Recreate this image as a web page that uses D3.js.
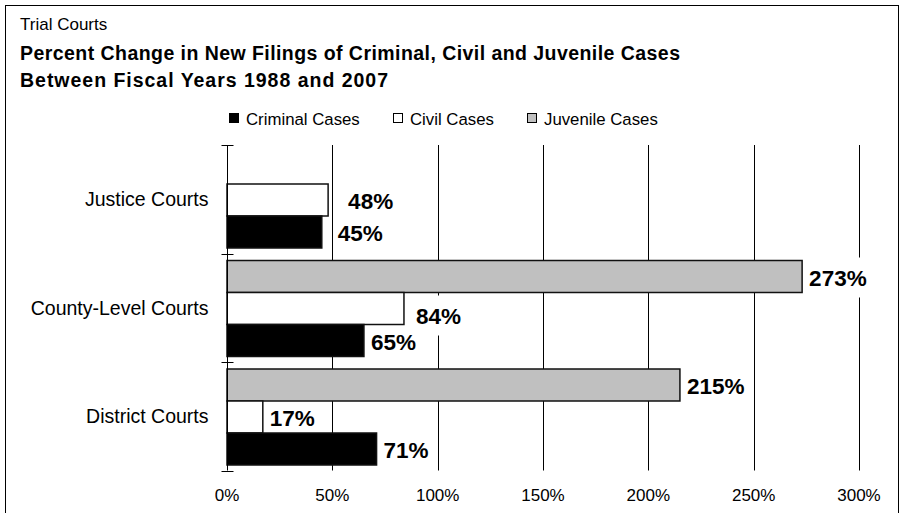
<!DOCTYPE html>
<html>
<head>
<meta charset="utf-8">
<script src="https://cdn.jsdelivr.net/npm/d3@7"></script>
<style>
  html, body { margin: 0; padding: 0; background: #fff; }
  svg { display: block; font-family: "Liberation Sans", Arial, sans-serif; }
</style>
</head>
<body>
<div id="chart"></div>
<script>
// Trial courts: percent change in new filings, FY1988 -> FY2007

var courts = ["Justice Courts", "County-Level Courts", "District Courts"];
var seriesNames = ["Juvenile Cases", "Civil Cases", "Criminal Cases"];   // top -> bottom inside a group
var legendOrder = ["Criminal Cases", "Civil Cases", "Juvenile Cases"];
var criminal = [45, 65, 71];
var civil = [48, 84, 17];
var juvenile = [null, 273, 215];
var xTicks = [0, 50, 100, 150, 200, 250, 300];

var fills = { "Criminal Cases": "#000", "Civil Cases": "#fff", "Juvenile Cases": "#c0c0c0" };

// hand-moved labels in the original (extra gap, vertical nudge)
var labelNudge = {
    "Justice Courts|Civil Cases": [13, 0],
    "Justice Courts|Criminal Cases": [9, 0],
    "County-Level Courts|Civil Cases": [5, 6]
};

var rows = [];
courts.forEach(function (c, i) {
    rows.push({ court: c, series: "Juvenile Cases", value: juvenile[i] });
    rows.push({ court: c, series: "Civil Cases", value: civil[i] });
    rows.push({ court: c, series: "Criminal Cases", value: criminal[i] });
});
rows = rows.filter(function (d) { return d.value != null; });

var W = 904, H = 513;
var svg = d3.select("#chart").append("svg")
    .attr("width", W).attr("height", H);

// frame
svg.append("rect")
    .attr("x", 5.5).attr("y", 5.5)
    .attr("width", 893).attr("height", 530)
    .attr("fill", "none").attr("stroke", "#000").attr("stroke-width", 1);

// titles
svg.append("text").attr("x", 20).attr("y", 30)
    .attr("font-size", 17).text("Trial Courts");
svg.append("text").attr("x", 20).attr("y", 60)
    .attr("font-size", 19.5).attr("font-weight", "bold")
    .attr("textLength", 660).attr("lengthAdjust", "spacing")
    .text("Percent Change in New Filings of Criminal, Civil and Juvenile Cases");
svg.append("text").attr("x", 20).attr("y", 87)
    .attr("font-size", 19.5).attr("font-weight", "bold")
    .attr("textLength", 368).attr("lengthAdjust", "spacing")
    .text("Between Fiscal Years 1988 and 2007");

// legend
var legendX = [229, 393, 527];
var legend = svg.append("g").selectAll("g")
    .data(legendOrder).enter().append("g")
    .attr("transform", function (d, i) { return "translate(" + legendX[i] + ",113)"; });
legend.append("rect")
    .attr("x", 0.5).attr("y", 0.5).attr("width", 9).attr("height", 9)
    .attr("fill", function (d) { return fills[d]; })
    .attr("stroke", "#000").attr("stroke-width", 1);
legend.append("text")
    .attr("x", 17).attr("y", 11.5)
    .attr("font-size", 16.8)
    .text(function (d) { return d; });

// scales
var x = d3.scaleLinear().domain([0, 300]).range([227, 859]);
var y = d3.scaleBand().domain(courts).range([145, 470.5]);
var yInner = d3.scaleBand().domain(seriesNames).range([7, 103]);

var plot = svg.append("g");

// vertical gridlines
plot.append("g").selectAll("line")
    .data(xTicks.filter(function (t) { return t > 0; })).enter().append("line")
    .attr("x1", function (d) { return Math.round(x(d)) + 0.5; })
    .attr("x2", function (d) { return Math.round(x(d)) + 0.5; })
    .attr("y1", 145).attr("y2", 470.5)
    .attr("stroke", "#000").attr("stroke-width", 1);

function labelPos(d) {
    var n = labelNudge[d.court + "|" + d.series] || [0, 0];
    var cy = y(d.court) + yInner(d.series) + yInner.bandwidth() / 2 + 1;
    return "translate(" + (x(d.value) + 7 + n[0]) + "," + (cy + n[1]) + ")";
}

// white boxes behind labels hide the gridlines (bars still drawn on top)
var boxLayer = plot.append("g");
var barLayer = plot.append("g");
var textLayer = plot.append("g");

// bars
barLayer.selectAll("rect")
    .data(rows).enter().append("rect")
    .attr("x", x(0))
    .attr("y", function (d) { return y(d.court) + yInner(d.series); })
    .attr("width", function (d) { return x(d.value) - x(0); })
    .attr("height", yInner.bandwidth())
    .attr("fill", function (d) { return fills[d.series]; })
    .attr("stroke", "#111").attr("stroke-width", 1.5);

// data labels
var labels = textLayer.selectAll("text")
    .data(rows).enter().append("text")
    .attr("transform", labelPos)
    .attr("dy", "0.36em")
    .attr("font-size", 22.5)
    .attr("font-weight", "bold")
    .text(function (d) { return d.value + "%"; });

labels.each(function (d) {
    var bb = this.getBBox();
    boxLayer.append("rect")
        .attr("transform", labelPos(d))
        .attr("x", bb.x - 2).attr("y", -20)
        .attr("width", bb.width + 4).attr("height", 40)
        .attr("fill", "#fff");
});

// y axis with crossing ticks
var yAxisG = svg.append("g").attr("transform", "translate(" + (Math.round(x(0)) + 0.5) + ",0)");
yAxisG.append("line").attr("y1", 145).attr("y2", 470.5).attr("stroke", "#000");
var bounds = courts.map(function (c) { return y(c); }).concat([y.range()[1]]);
yAxisG.selectAll(".tk").data(bounds).enter().append("line")
    .attr("class", "tk")
    .attr("x1", -6).attr("x2", 6)
    .attr("y1", function (d) { return Math.round(d) + 0.5; })
    .attr("y2", function (d) { return Math.round(d) + 0.5; })
    .attr("stroke", "#000");
yAxisG.selectAll(".cat").data(courts).enter().append("text")
    .attr("class", "cat")
    .attr("x", -19)
    .attr("y", function (d) { return y(d) + y.bandwidth() / 2; })
    .attr("dy", "0.35em")
    .attr("text-anchor", "end")
    .attr("font-size", 19.5)
    .text(function (d) { return d; });

// x tick labels
svg.append("g").selectAll("text")
    .data(xTicks).enter().append("text")
    .attr("x", function (d) { return x(d); })
    .attr("y", 501)
    .attr("text-anchor", "middle")
    .attr("font-size", 17)
    .text(function (d) { return d + "%"; });
</script>
</body>
</html>
